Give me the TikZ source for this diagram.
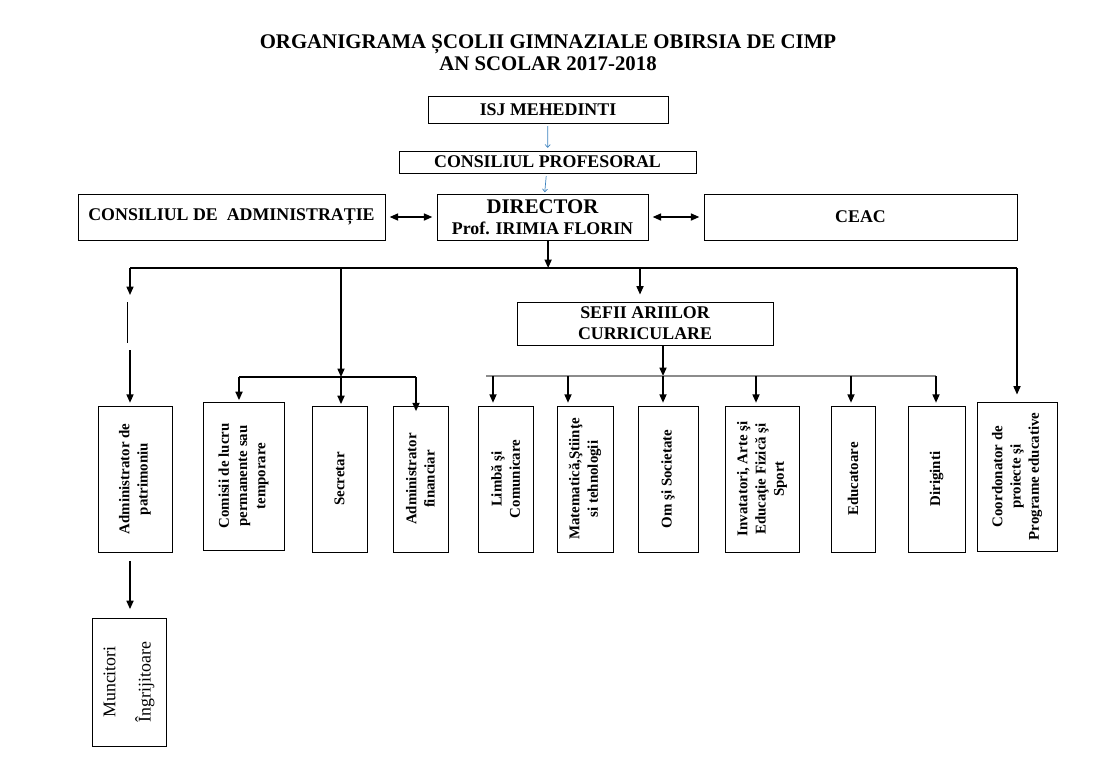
\documentclass[tikz,border=0pt]{standalone}
\usepackage{fontspec}
\setmainfont{Liberation Serif}
\usetikzlibrary{arrows.meta}
\definecolor{thinblue}{RGB}{60,130,190}
\def\rotlabel(#1)#2{\node[rotate=90, vtext] at (#1.center) {#2};}

\begin{document}
\begin{tikzpicture}[x=0.025cm, y=-0.025cm,
	box/.style={draw, line width=0.6pt, inner sep=0pt, align=center,
		font=\fontsize{12.7}{15}\selectfont\bfseries},
	vtext/.style={align=center, font=\fontsize{10.6}{13}\selectfont\bfseries},
	link/.style={line width=1.1pt, -{Triangle[length=6pt,width=5pt]}},
	wire/.style={line width=1.1pt},
	thinlink/.style={line width=0.5pt, color=thinblue, -{To[length=2.5pt,width=4pt]}},
	both/.style={line width=1.1pt, {Triangle[length=6pt,width=5pt]}-{Triangle[length=6pt,width=5pt]}}]
	%%%%% START %%%%%
	\useasboundingbox (0,0) rectangle (1104,758);
	
	\node[align=center, font=\fontsize{14.8}{15.6}\selectfont\bfseries] (title) at (548,53)
		{ORGANIGRAMA ȘCOLII GIMNAZIALE OBIRSIA DE CIMP\\AN SCOLAR 2017-2018};
	
	% conducere
	\node[box, minimum width=6cm, minimum height=0.675cm] (isj) at (548,109.5) {ISJ MEHEDINTI};
	\node[box, minimum width=7.425cm, minimum height=0.55cm] (prof) at (547.5,162) {CONSILIUL PROFESORAL};
	\node[box, minimum width=5.275cm, minimum height=1.15cm] (dir) at (542.5,217)
		{\fontsize{14.8}{16}\selectfont DIRECTOR\\Prof. IRIMIA FLORIN};
	\node[box, minimum width=7.675cm, minimum height=1.15cm] (adm) at (231.5,217) {CONSILIUL DE\ \ ADMINISTRAȚIE};
	\node[box, minimum width=7.825cm, minimum height=1.15cm] (ceac) at (860.5,217) {CEAC};
	\node[box, minimum width=6.4cm, minimum height=1.075cm] (sefii) at (645,323.5) {SEFII ARIILOR\\CURRICULARE};
	
	\draw[thinlink, shorten <=2pt, shorten >=2pt] (isj) -- (prof);
	\draw[thinlink, shorten <=2pt, shorten >=1pt] (prof) -- (dir);
	\draw[both, shorten <=3pt, shorten >=3pt] (adm) -- (dir);
	\draw[both, shorten <=3pt, shorten >=3pt] (dir) -- (ceac);
	
	% bara principala
	\coordinate (busL) at (130,268);
	\coordinate (busR) at (1017,268);
	\coordinate (busM) at (341,268);
	\coordinate (busS) at (640,268);
	\draw[link] ([xshift=4pt]dir.south) -- ([xshift=4pt]dir.south |- busL);
	\draw[wire] (busL) -- (busR);
	
	% compartimente
	\node[box, minimum width=1.85cm, minimum height=3.65cm] (patrim) at (135,479) {};
	\node[box, minimum width=2.025cm, minimum height=3.7cm] (comisii) at (243.5,476) {};
	\node[box, minimum width=1.375cm, minimum height=3.65cm] (secretar) at (339.5,479) {};
	\node[box, minimum width=1.375cm, minimum height=3.65cm] (fin) at (420.5,479) {};
	\node[box, minimum width=1.375cm, minimum height=3.65cm] (limba) at (505.5,479) {};
	\node[box, minimum width=1.4cm, minimum height=3.65cm] (mate) at (585,479) {};
	\node[box, minimum width=1.5cm, minimum height=3.65cm] (om) at (668,479) {};
	\node[box, minimum width=1.85cm, minimum height=3.65cm] (inv) at (762,479) {};
	\node[box, minimum width=1.1cm, minimum height=3.65cm] (educ) at (853,479) {};
	\node[box, minimum width=1.425cm, minimum height=3.65cm] (dirig) at (936.5,479) {};
	\node[box, minimum width=2cm, minimum height=3.725cm] (coord) at (1017,476.5) {};
	\node[box, minimum width=1.85cm, minimum height=3.2cm] (munc) at (129,682) {};
	
	\rotlabel(patrim){Administrator de\\patrimoniu}
	\rotlabel(comisii){Comisii de lucru\\permanente sau\\temporare}
	\rotlabel(secretar){Secretar}
	\rotlabel(fin){Administrator\\financiar}
	\rotlabel(limba){Limbă şi\\Comunicare}
	\rotlabel(mate){Matematică,Ştiinţe\\si tehnologii}
	\rotlabel(om){Om şi Societate}
	\rotlabel(inv){Invatatori, Arte şi\\Educaţie Fizică şi\\Sport}
	\rotlabel(educ){Educatoare}
	\rotlabel(dirig){Diriginti}
	\rotlabel(coord){Coordonator de\\proiecte şi\\Programe educative}
	\node[rotate=90, align=center, font=\fontsize{12.7}{15}\selectfont] at (munc.center)
		{Muncitori\\[10pt]Îngrijitoare};
	
	% ramura stanga
	\coordinate (l1) at (130,295);
	\coordinate (l2a) at (127,302);
	\coordinate (l2b) at (127,343);
	\coordinate (l3) at (130,350);
	\draw[link] (busL) -- (l1);
	\draw[line width=0.6pt] (l2a) -- (l2b);
	\draw[link, shorten >=2pt] (l3) -- (l3 |- patrim.north);
	\draw[link, shorten <=6pt, shorten >=6pt] (l3 |- patrim.south) -- (l3 |- munc.north);
	
	% ramura mijloc
	\coordinate (subM) at (341,377);
	\coordinate (subL) at (239,377);
	\coordinate (subR) at (416,377);
	\draw[link] (busM) -- (subM);
	\draw[wire] (subL) -- (subR);
	\draw[link, shorten >=1pt] (subM) -- (subM |- secretar.north);
	\draw[link, shorten >=1pt] (subL) -- (subL |- comisii.north);
	\draw[link] (subR) -- ([yshift=-4pt]subR |- fin.north);
	
	% arii curriculare
	\draw[link, shorten >=5pt] (busS) -- (busS |- sefii.north);
	\coordinate (cbL) at (486,376);
	\coordinate (cbR) at (936,376);
	\draw[link] ([xshift=0.45cm]sefii.south) -- ([xshift=0.45cm]sefii.south |- cbL);
	\draw[line width=1.1pt, color=black!45] (cbL) -- (cbR);
	\foreach \x/\n in {493/limba, 568/mate, 663/om, 756/inv, 851/educ, 936/dirig}{
		\coordinate (c\n) at (\x,376);
		\draw[link, shorten >=2pt] (c\n) -- (c\n |- \n.north);
	}
	
	% coordonator
	\draw[link, shorten >=5pt] (busR) -- (busR |- coord.north);
	
	%%%%% END %%%%%
\end{tikzpicture}
\end{document}
